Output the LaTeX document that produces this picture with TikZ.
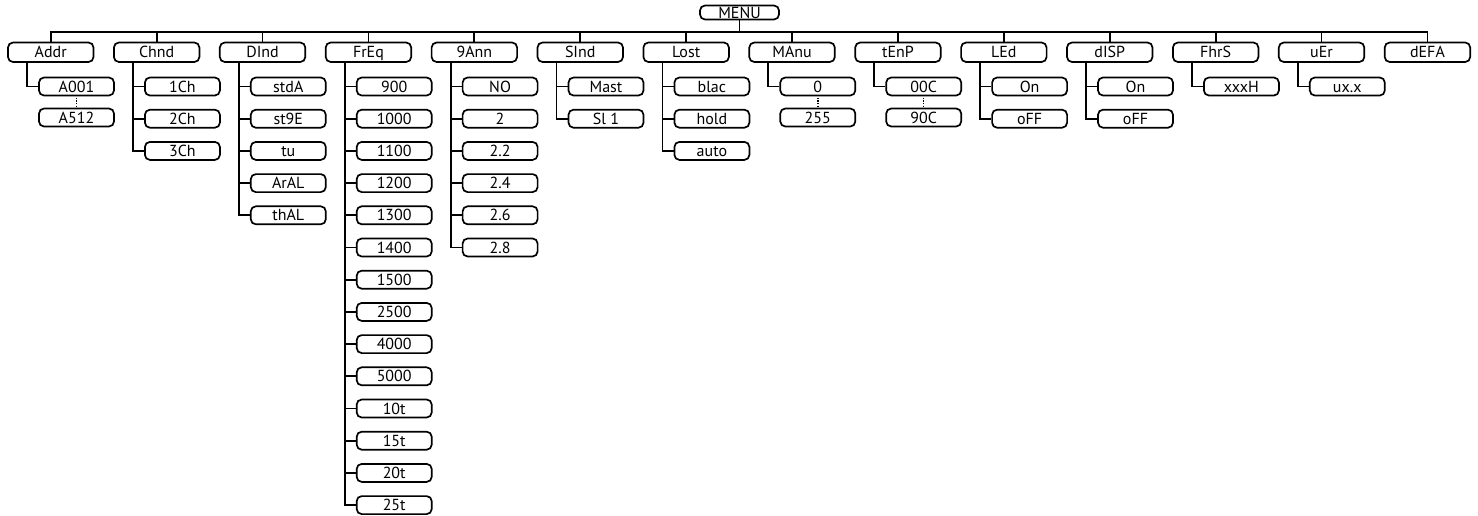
\documentclass[tikz,border=0pt]{standalone}
\usepackage{fontspec}
\setmainfont{PT Sans}
\usetikzlibrary{calc}
\tikzset{
  x=1pt, y=-1pt,
  box/.style={draw, rounded corners=5pt, inner sep=0pt, line width=1.7pt,
    font=\fontsize{16}{16}\selectfont, text height=11pt, text depth=0pt},
  menubox/.style={box, minimum width=79pt, minimum height=14pt},
  topbox/.style={box, minimum width=85.5pt, minimum height=19.5pt},
  kid/.style={box, minimum width=75pt, minimum height=18pt},
  link/.style={line width=1.8pt},
  dots/.style={line width=1.4pt, dash pattern=on 1.3pt off 1.3pt}
}
\newcommand\kids[2]{%
  \foreach \lab [count=\k from 0] in {#2}{%
    \node[kid] (#1-\k) at ($(#1.center)+(25.75,{34.25+32.2*\k})$) {\lab};
    \draw[link] ([xshift=-23.75pt]#1.south) |- (#1-\k.west);
  }}
\newcommand\dotkids[3]{%
  \node[kid] (#1-0) at ($(#1.center)+(25.75,34.25)$) {#2};
  \node[kid] (#1-1) at ($(#1.center)+(25.75,65.25)$) {#3};
  \draw[link] ([xshift=-23.75pt]#1.south) |- (#1-0.west);
  \draw[dots] ([yshift=-1.5pt]#1-0.south) -- ([yshift=1.5pt]#1-1.north);
}
\begin{document}
\begin{tikzpicture}
\useasboundingbox (0,0) rectangle (1478,515);
\node[menubox] (MENU) at (739.5,12.5) {MENU};
\coordinate (bus) at (0,32);
\foreach \nm/\lab [count=\i from 0] in {Addr/Addr,Chnd/Chnd,DInd/DInd,FrEq/FrEq,Ann/9Ann,SInd/SInd,Lost/Lost,MAnu/MAnu,tEnP/tEnP,LEd/LEd,dISP/dISP,FhrS/FhrS,uEr/uEr,dEFA/dEFA}{
  \node[topbox] (\nm) at ({50.75+105.9*\i},52.25) {\lab};
  \draw[link] (MENU.south) -- (MENU.south |- bus) -| (\nm.north);
}
\dotkids{Addr}{A001}{A512}
\kids{Chnd}{1Ch,2Ch,3Ch}
\kids{DInd}{stdA,st9E,tu,ArAL,thAL}
\kids{FrEq}{900,1000,1100,1200,1300,1400,1500,2500,4000,5000,10t,15t,20t,25t}
\kids{Ann}{NO,2,2.2,2.4,2.6,2.8}
\kids{SInd}{Mast,Sl 1}
\kids{Lost}{blac,hold,auto}
\dotkids{MAnu}{0}{255}
\dotkids{tEnP}{00C}{90C}
\kids{LEd}{On,oFF}
\kids{dISP}{On,oFF}
\kids{FhrS}{xxxH}
\kids{uEr}{ux.x}
\end{tikzpicture}
\end{document}
